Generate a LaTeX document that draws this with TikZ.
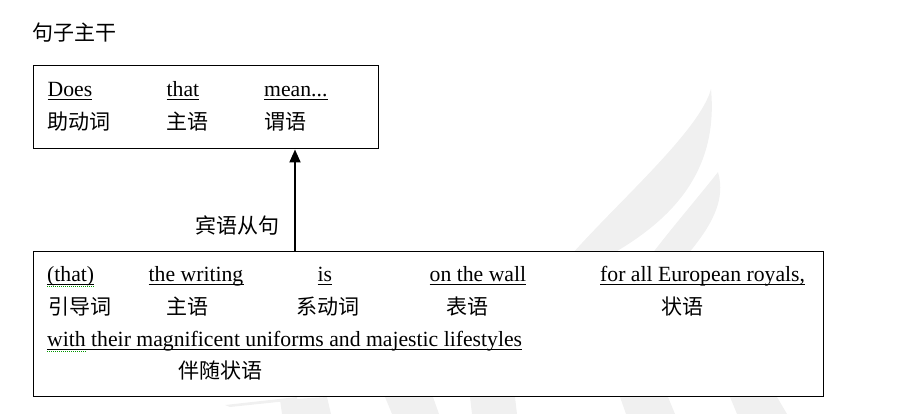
\documentclass[tikz,border=0pt]{standalone}
\usepackage{fontspec}
\setmainfont{Liberation Serif}
\newfontfamily\cjk{Noto Sans CJK SC}
\usetikzlibrary{arrows.meta}
\tikzset{
  en/.style={inner sep=0pt, anchor=base west, font=\fontsize{21.7pt}{24pt}\selectfont},
  zh/.style={inner sep=0pt, anchor=west, font=\cjk\fontsize{21pt}{24pt}\selectfont},
  box/.style={draw, fill=white, line width=1pt, inner sep=0pt},
  uline/.style={line width=1pt},
  spell/.style={green!60!black, line width=1pt, dash pattern=on 1pt off 1pt},
  wm/.style={fill=gray!12},
}
\begin{document}
\begin{tikzpicture}[x=1pt, y=-1pt]
\useasboundingbox (0,0) rectangle (900,414);
% Filigrane
\fill[wm] (711,89) .. controls (700,130) and (620,200) .. (572,254) -- (612,254) .. controls (680,215) and (718,165) .. (711,89) -- cycle;
\fill[wm] (718,172) .. controls (700,195) and (670,230) .. (652,254) -- (688,254) .. controls (712,225) and (726,200) .. (718,172) -- cycle;
\fill[wm] (225,405) -- (297,397) -- (297,400) -- (230,407) -- cycle;
\foreach \a/\b/\c/\d/\e in {280/327/400/282/331, 385/433/397/392/439, 470/515/397/472/517, 620/668/397/626/675, 730/777/397/737/787}
  \fill[wm] (\a,\c) -- (\b,397) -- (\e,414) -- (\d,414) -- cycle;
% Titre
\node[zh] (title) at (32,33) {句子主干};
% Cadres
\node[box, minimum width=345pt, minimum height=83pt] (main) at (205.5,107.5) {};
\node[box, minimum width=790pt, minimum height=144pt] (clause) at (428,324) {};
% Phrase principale
\node[en] (does) at (47.5,97) {Does};
\node[en] (thatm) at (166.5,97) {that};
\node[en] (mean) at (264,97) {mean...};
\node[zh] (aux) at (47.5,122) {助动词};
\node[zh] (subjm) at (166.5,122) {主语};
\node[zh] (pred) at (264,122) {谓语};
% Subordonnee
\node[en] (thatc) at (47,282) {(that)};
\node[en] (writing) at (148.5,282) {the writing};
\node[en] (is) at (317.5,282) {is};
\node[en] (wall) at (429.5,282) {on the wall};
\node[en] (royals) at (600,282) {for all European royals,};
\node[zh] (intro) at (48,307) {引导词};
\node[zh] (subjc) at (166.5,307) {主语};
\node[zh] (link) at (296.5,307) {系动词};
\node[zh] (compl) at (446.5,307) {表语};
\node[zh] (adv) at (661.5,307) {状语};
\node[en] (with) at (47,346.5) {with their magnificent uniforms and majestic lifestyles};
\node[zh] (accomp) at (178,371) {伴随状语};
% Soulignements
\foreach \w in {does,thatm,mean,thatc,writing,is,wall,royals,with}
  \draw[uline] ([yshift=-2.5pt]\w.base west) -- ([yshift=-2.5pt]\w.base east);
\draw[spell] ([yshift=-4.5pt]thatc.base west) -- ([yshift=-4.5pt]thatc.base east);
\draw[spell] ([yshift=-4.5pt]with.base west) -- ++(39,0);
% Fleche
\coordinate (ax) at (295,0);
\draw[line width=2pt, -{Triangle[width=11pt,length=13pt]}] (clause.north -| ax) -- (main.south -| ax);
\node[zh, anchor=center] (obj) at (237,226) {宾语从句};
\end{tikzpicture}
\end{document}
